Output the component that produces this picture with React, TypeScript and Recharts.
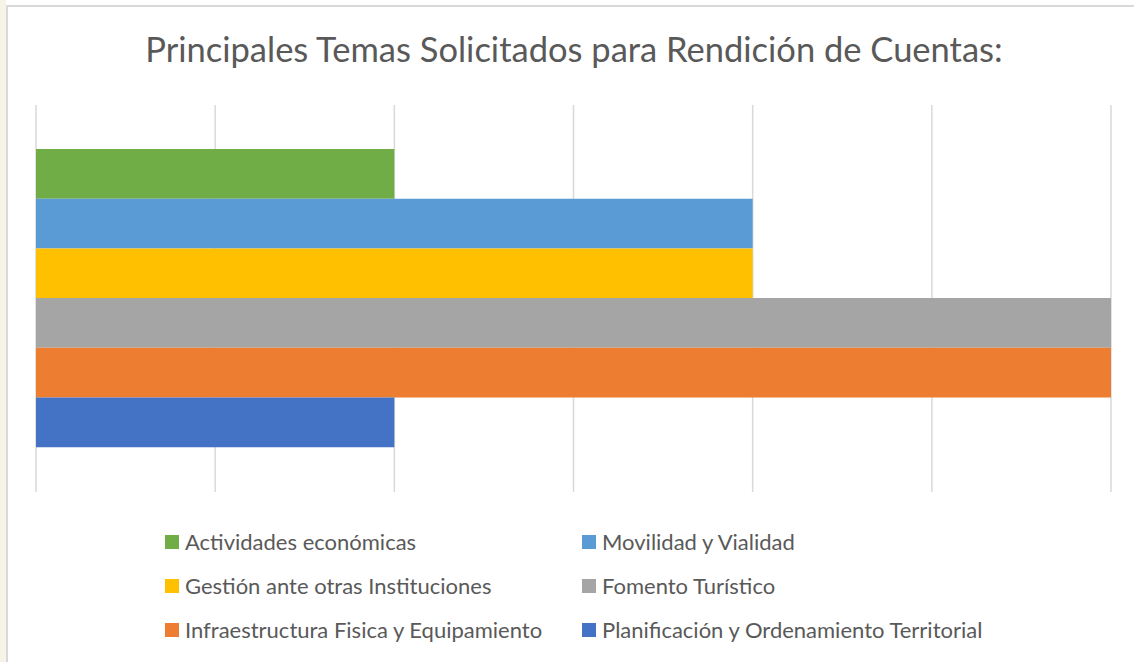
import React from "react";
import { BarChart, Bar, XAxis, YAxis, CartesianGrid } from "recharts";

const categories = ["Temas"];
const seriesNames = [
  "Actividades económicas",
  "Movilidad y Vialidad",
  "Gestión ante otras Instituciones",
  "Fomento Turístico",
  "Infraestructura Fisica y Equipamiento",
  "Planificación y Ordenamiento Territorial",
];
const seriesValues = [2, 4, 4, 6, 6, 2];
const seriesColors = ["#70ad47", "#5b9bd5", "#ffc000", "#a5a5a5", "#ed7d31", "#4472c4"];
const xTicks = [0, 1, 2, 3, 4, 5, 6];
const chartTitle = "Principales Temas Solicitados para Rendición de Cuentas:";

const data = categories.map((c) => {
  const row: Record<string, string | number> = { name: c };
  seriesNames.forEach((s, i) => {
    row[s] = seriesValues[i];
  });
  return row;
});

const FONT = "Lato, 'Open Sans', sans-serif";

const EmptyTick = () => <g />;

export default function App() {
  return (
    <div
      style={{
        position: "absolute",
        left: 0,
        top: 0,
        width: 1134,
        height: 662,
        background: "#ffffff",
        overflow: "hidden",
      }}
    >
      <div style={{ position: "absolute", left: 0, top: 0, width: 6, height: 662, background: "#f6f3e8" }} />
      <div
        style={{
          position: "absolute",
          left: 6,
          top: 5,
          width: 1140,
          height: 670,
          borderLeft: "2px solid #d9d9d9",
          borderTop: "2px solid #d9d9d9",
          background: "#ffffff",
        }}
      />
      <div
        style={{
          position: "absolute",
          left: 0,
          top: 29,
          width: 1148,
          textAlign: "center",
          fontFamily: FONT,
          fontSize: 34.5,
          lineHeight: "40px",
          color: "#595959",
          whiteSpace: "nowrap",
        }}
      >
        {chartTitle}
      </div>
      <div style={{ position: "absolute", left: 0, top: 0 }}>
        <BarChart
          width={1134}
          height={662}
          data={data}
          layout="vertical"
          margin={{ top: 105, right: 23, bottom: 170, left: 36 }}
          barCategoryGap="11.6%"
          barGap={0}
          barSize={49.7}
        >
          <CartesianGrid horizontal={false} stroke="#d9d9d9" strokeWidth={1.5} />
          <XAxis
            type="number"
            domain={[0, 6]}
            ticks={xTicks}
            tick={EmptyTick}
            axisLine={false}
            tickLine={false}
            height={0}
          />
          <YAxis type="category" dataKey="name" hide width={0} />
          {seriesNames.map((s, i) => (
            <Bar key={s} dataKey={s} fill={seriesColors[i]} isAnimationActive={false} />
          ))}
        </BarChart>
      </div>
      <div
        style={{
          position: "absolute",
          left: 165,
          top: 520,
          display: "grid",
          gridTemplateColumns: "417px 460px",
          fontFamily: FONT,
          fontSize: 22,
          lineHeight: "24px",
          color: "#595959",
        }}
      >
        {seriesNames.map((s, i) => (
          <div key={s} style={{ display: "flex", alignItems: "center", height: 44, whiteSpace: "nowrap" }}>
            <span
              style={{
                display: "inline-block",
                width: 14,
                height: 14,
                background: seriesColors[i],
                marginRight: 6,
                flexShrink: 0,
              }}
            />
            <span>{s}</span>
          </div>
        ))}
      </div>
    </div>
  );
}
